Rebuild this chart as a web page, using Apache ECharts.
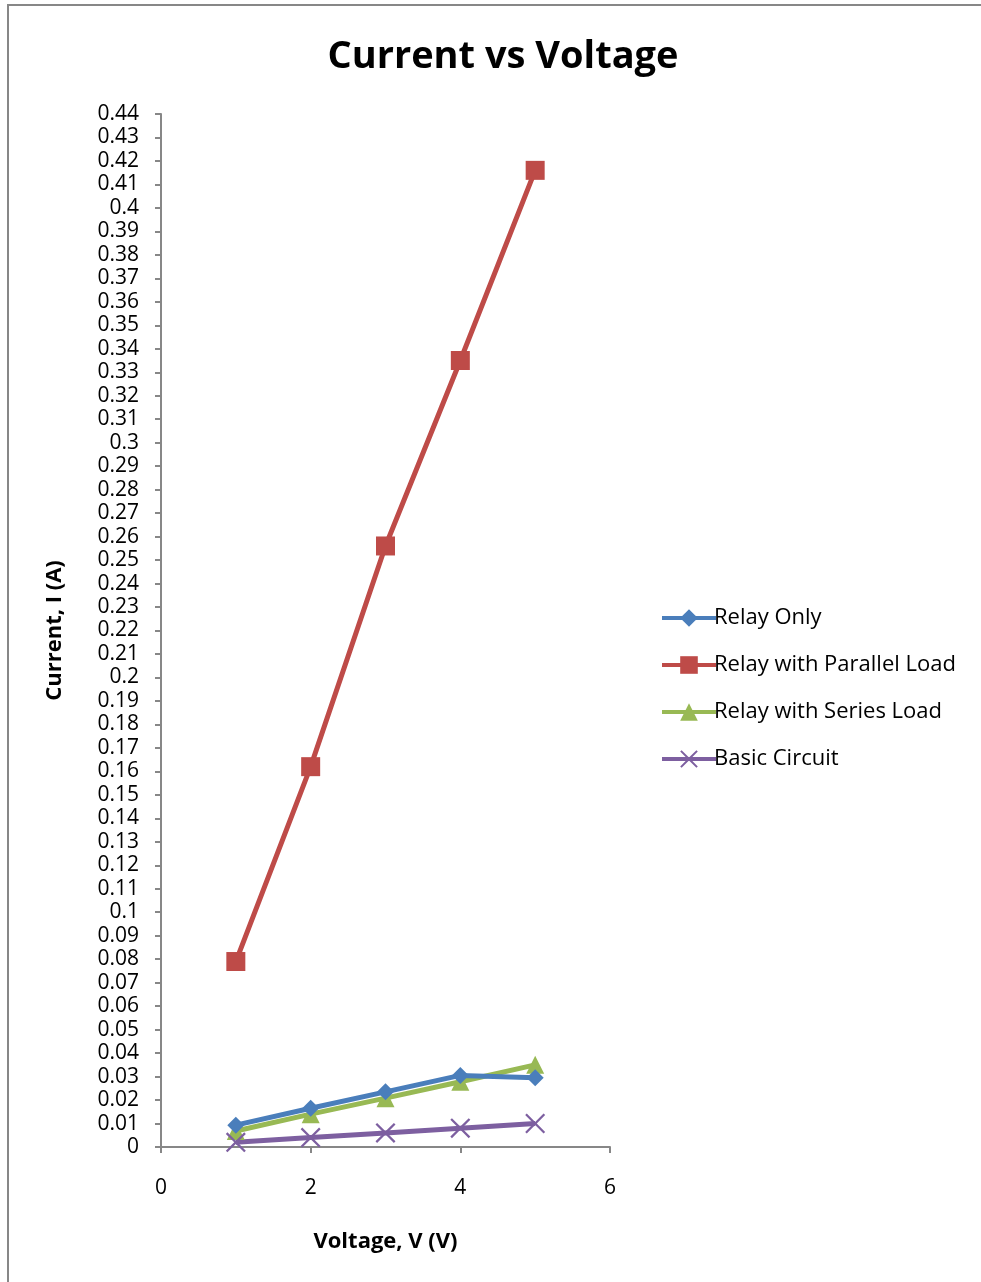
<!DOCTYPE html>
<html><head><meta charset="utf-8">
<script src="https://cdn.jsdelivr.net/npm/echarts@6/dist/echarts.min.js"></script>
<style>html,body{margin:0;padding:0;background:#fff}#c{width:981px;height:1282px}</style>
</head><body><div id="c"></div>
<script>
const voltage = [1, 2, 3, 4, 5];
const relayOnly = [0.0093, 0.0165, 0.0235, 0.0305, 0.0295];
const relayParallel = [0.079, 0.162, 0.256, 0.335, 0.416];
const relaySeries = [0.0068, 0.014, 0.0208, 0.0278, 0.035];
const basicCircuit = [0.002, 0.004, 0.006, 0.008, 0.010];
const seriesNames = ['Relay Only', 'Relay with Parallel Load', 'Relay with Series Load', 'Basic Circuit'];
const colors = ['#4a7ebb', '#be4b48', '#98b954', '#7d5fa0'];

const FONT = '"Open Sans", "Noto Sans", sans-serif';
const crossPath = 'path://M0,0.8 L0.8,0 L5,4.2 L9.2,0 L10,0.8 L5.8,5 L10,9.2 L9.2,10 L5,5.8 L0.8,10 L0,9.2 L4.2,5 Z';
const symbols = ['diamond', 'rect', 'triangle', crossPath];
const sizes = [17, 19, 18, 20];
const dataSets = [relayOnly, relayParallel, relaySeries, basicCircuit];

const chart = echarts.init(document.getElementById('c'));
chart.setOption({
  animation: false,
  backgroundColor: '#fff',
  title: {
    text: 'Current vs Voltage', left: 498, top: 33, textAlign: 'center',
    textStyle: { fontFamily: FONT, fontWeight: 'bold', fontSize: 38, color: '#000' }
  },
  graphic: [{
    type: 'rect', shape: { x: 8, y: 5, width: 1000, height: 1300 },
    style: { fill: 'none', stroke: '#878787', lineWidth: 2 }, silent: true
  }],
  legend: {
    orient: 'vertical', left: 655, top: 602, itemGap: 25, itemWidth: 54, itemHeight: 22,
    lineStyle: { width: 4 },
    textStyle: { fontFamily: FONT, fontSize: 22, color: '#000', padding: [0, 0, 0, -7] },
    data: seriesNames
  },
  grid: { left: 161, right: 371, top: 114, bottom: 135, containLabel: false },
  xAxis: {
    type: 'value', min: 0, max: 6, interval: 2,
    name: 'Voltage, V (V)', nameLocation: 'middle', nameGap: 84,
    nameTextStyle: { fontFamily: FONT, fontWeight: 'bold', fontSize: 22, color: '#000' },
    axisLine: { lineStyle: { color: '#878787', width: 2 } },
    axisTick: { show: true, length: 6, lineStyle: { color: '#878787', width: 2 } },
    axisLabel: { fontFamily: FONT, fontSize: 21, color: '#000', margin: 31 },
    splitLine: { show: false }
  },
  yAxis: {
    type: 'value', min: 0, max: 0.44, interval: 0.01,
    name: 'Current, I (A)', nameLocation: 'middle', nameGap: 95, nameRotate: 90,
    nameTextStyle: { fontFamily: FONT, fontWeight: 'bold', fontSize: 22, color: '#000' },
    axisLine: { show: true, lineStyle: { color: '#878787', width: 2 } },
    axisTick: { show: true, length: 6, lineStyle: { color: '#878787', width: 2 } },
    axisLabel: { fontFamily: FONT, fontSize: 21, color: '#000', margin: 22,
      formatter: v => String(parseFloat(v.toFixed(2))) },
    splitLine: { show: false }
  },
  series: seriesNames.map((n, i) => ({
    name: n, type: 'line', data: voltage.map((x, j) => [x, dataSets[i][j]]),
    symbol: symbols[i], symbolSize: sizes[i], showAllSymbol: true,
    itemStyle: { color: colors[i] },
    lineStyle: { color: colors[i], width: 5 },
    z: i === 0 ? 3 : 2
  }))
});
</script></body></html>
